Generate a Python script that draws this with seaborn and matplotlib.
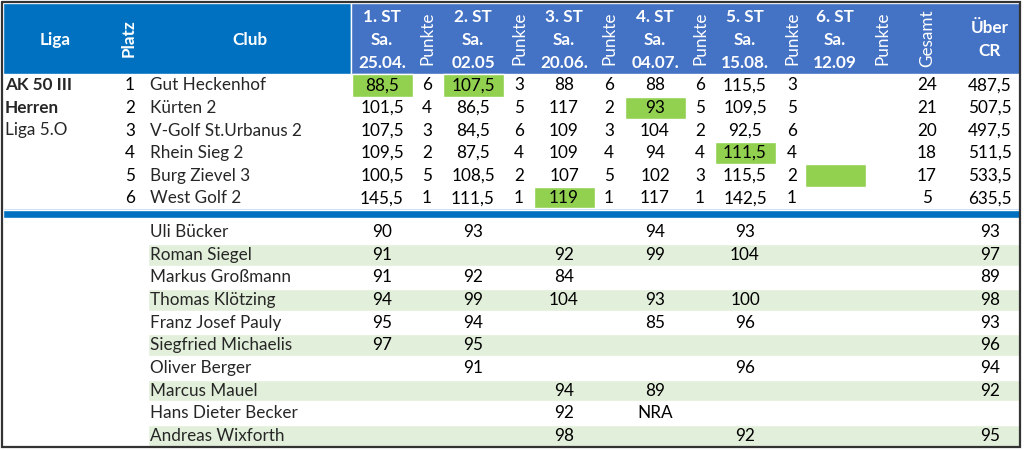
"""League standings table (AK 50 III Herren, Liga 5.O)."""
import matplotlib
matplotlib.use("Agg")
import matplotlib.pyplot as plt
import seaborn as sns

# ---- data ----------------------------------------------------------------
clubs = ["Gut Heckenhof", "Kürten 2", "V-Golf St.Urbanus 2", "Rhein Sieg 2",
         "Burg Zievel 3", "West Golf 2"]
platz = [1, 2, 3, 4, 5, 6]
round_titles = ["1. ST", "2. ST", "3. ST", "4. ST", "5. ST", "6. ST"]
round_dates = ["25.04.", "02.05", "20.06.", "04.07.", "15.08.", "12.09"]

st1 = [88.5, 101.5, 107.5, 109.5, 100.5, 145.5]
st2 = [107.5, 86.5, 84.5, 87.5, 108.5, 111.5]
st3 = [88, 117, 109, 109, 107, 119]
st4 = [88, 93, 104, 94, 102, 117]
st5 = [115.5, 109.5, 92.5, 111.5, 115.5, 142.5]
st6 = [None, None, None, None, None, None]
pk1 = [6, 4, 3, 2, 5, 1]
pk2 = [3, 5, 6, 4, 2, 1]
pk3 = [6, 2, 3, 4, 5, 1]
pk4 = [6, 5, 2, 4, 3, 1]
pk5 = [3, 5, 6, 4, 2, 1]
pk6 = [None, None, None, None, None, None]
gesamt = [24, 21, 20, 18, 17, 5]
ueber_cr = [487.5, 507.5, 497.5, 511.5, 533.5, 635.5]
# best (lowest) round per club row -> (row, round)
best_rows = [0, 0, 5, 1, 3, 4]
best_rounds = [0, 1, 2, 3, 4, 5]

players = ["Uli Bücker", "Roman Siegel", "Markus Großmann", "Thomas Klötzing",
           "Franz Josef Pauly", "Siegfried Michaelis", "Oliver Berger",
           "Marcus Mauel", "Hans Dieter Becker", "Andreas Wixforth"]
p_st1 = [90, 91, 91, 94, 95, 97, None, None, None, None]
p_st2 = [93, None, 92, 99, 94, 95, 91, None, None, None]
p_st3 = [None, 92, 84, 104, None, None, None, 94, 92, 98]
p_st4 = [94, 99, None, 93, 85, None, None, 89, "NRA", None]
p_st5 = [93, 104, None, 100, 96, None, 96, None, None, 92]
p_cr = [93, 97, 89, 98, 93, 96, 94, 92, None, 95]

# ---- layout (pixel coordinates) ------------------------------------------
W, H = 1024, 450
ST_X = [382, 473, 564, 655, 745, 835]
PK_X = [427, 519, 609, 700, 792, 882]
GES_X, CR_X = 927, 990
TOP_Y0, ROW_H = 74, 22.6
LOW_Y0 = 221
FRAME_R = 1020
DARK_BLUE, LIGHT_BLUE = "#0070C0", "#4472C4"
GREEN, STRIPE = "#92D050", "#E2EFDA"
FS = 12.3


def fmt(v):
    if v is None:
        return ""
    if isinstance(v, str):
        return v
    if float(v).is_integer():
        return str(int(v))
    return f"{v:.1f}".replace(".", ",")


sns.set_theme(style="white")
plt.rcParams["font.family"] = ["Lato", "DejaVu Sans"]

fig = plt.figure(figsize=(W / 100, H / 100), dpi=100)
ax = fig.add_axes([0, 0, 1, 1])
ax.set_xlim(0, W)
ax.set_ylim(H, 0)
ax.axis("off")

# header bands
ax.bar(3, 71, bottom=3, width=348, color=DARK_BLUE, align="edge")
ax.bar(351, 71, bottom=3, width=FRAME_R - 351, color=LIGHT_BLUE, align="edge")

hdr = dict(color="white", fontsize=FS, fontweight="bold", ha="center", va="center")
ax.text(55, 40, "Liga", **hdr)
ax.text(129, 38, "Platz", rotation=90, **hdr)
ax.text(250, 40, "Club", **hdr)
for x, t, d in zip(ST_X, round_titles, round_dates):
    ax.text(x, 17, t, **hdr)
    ax.text(x, 40, "Sa.", **hdr)
    ax.text(x, 63, d, **hdr)
rot = dict(color="white", fontsize=FS, ha="center", va="center", rotation=90)
for x in PK_X:
    ax.text(x, 38, "Punkte", **rot)
ax.text(GES_X, 38, "Gesamt", **rot)
ax.text(CR_X, 28, "Über", **hdr)
ax.text(CR_X, 51, "CR", **hdr)

# best-round highlights
for r, c in zip(best_rows, best_rounds):
    ax.bar(ST_X[c], ROW_H, bottom=TOP_Y0 + r * ROW_H, width=61, color=GREEN)

# upper table
cell = dict(fontsize=FS, ha="center", va="center", color="black")
ax.text(5, TOP_Y0 + 0.5 * ROW_H, "AK 50 III", fontsize=FS, fontweight="bold", va="center")
ax.text(5, TOP_Y0 + 1.5 * ROW_H, "Herren", fontsize=FS, fontweight="bold", va="center")
ax.text(5, TOP_Y0 + 2.5 * ROW_H, "Liga 5.O", fontsize=FS, va="center")
scores = [st1, st2, st3, st4, st5, st6]
points = [pk1, pk2, pk3, pk4, pk5, pk6]
for i, club in enumerate(clubs):
    y = TOP_Y0 + (i + 0.5) * ROW_H
    ax.text(130, y, str(platz[i]), **cell)
    ax.text(150, y, club, fontsize=FS, va="center")
    for k in range(6):
        ax.text(ST_X[k], y, fmt(scores[k][i]), **cell)
        ax.text(PK_X[k], y, fmt(points[k][i]), **cell)
    ax.text(GES_X, y, fmt(gesamt[i]), **cell)
    ax.text(CR_X, y, fmt(ueber_cr[i]), **cell)

# separator
ax.bar(3, 1.5, bottom=208, width=FRAME_R - 3, color="#9DC3E6", align="edge")
ax.bar(3, 8.5, bottom=209.5, width=FRAME_R - 3, color=DARK_BLUE, align="edge")

# lower table (players)
p_scores = [p_st1, p_st2, p_st3, p_st4, p_st5]
for i, name in enumerate(players):
    top = LOW_Y0 + i * ROW_H
    y = top + 0.5 * ROW_H
    if i % 2 == 1:
        ax.bar(148, ROW_H - 0.8, bottom=top + 0.4, width=FRAME_R - 148,
               color=STRIPE, align="edge")
    ax.text(150, y, name, fontsize=FS, va="center")
    for k in range(5):
        ax.text(ST_X[k], y, fmt(p_scores[k][i]), **cell)
    ax.text(CR_X, y, fmt(p_cr[i]), **cell)

# outer frame
ax.plot([1.5, FRAME_R, FRAME_R, 1.5, 1.5], [1.5, 1.5, 447, 447, 1.5],
        color="#333333", lw=1.6, solid_joinstyle="miter")

fig.savefig("out.png", dpi=100)
plt.close(fig)
